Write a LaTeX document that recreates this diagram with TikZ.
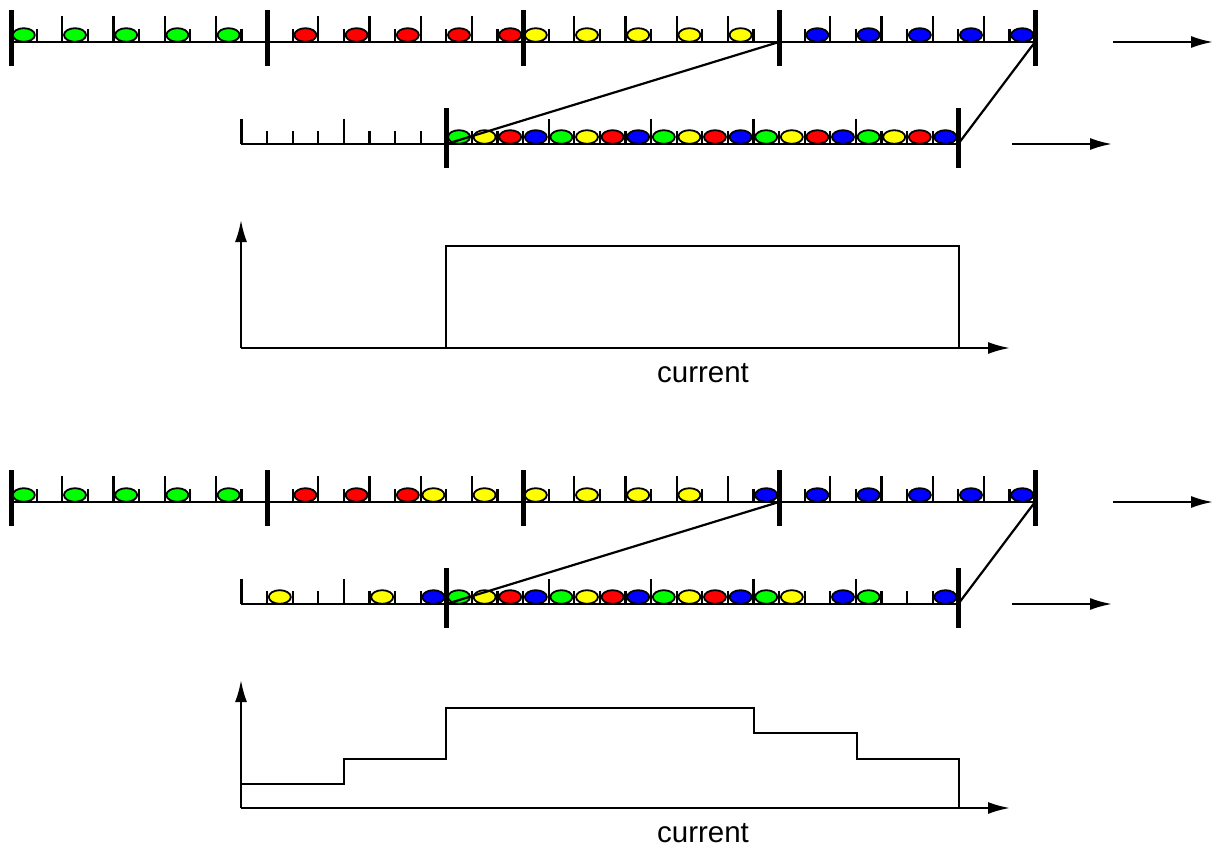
\documentclass[tikz,border=0pt]{standalone}
\usepackage{fontspec}
\newfontfamily\labfont{Liberation Sans}
\usetikzlibrary{arrows.meta}
\definecolor{cg}{RGB}{0,255,0}
\definecolor{cr}{RGB}{255,0,0}
\definecolor{cy}{RGB}{255,255,0}
\definecolor{cb}{RGB}{0,0,255}
\tikzset{
  axisline/.style={line width=2.2pt,-{Latex[length=22pt,width=12pt]}},
  flowarrow/.style={line width=2.2pt,-{Latex[length=22pt,width=12pt]}},
  baseline/.style={line width=2.2pt},
  bigbar/.style={line width=5pt},
  tickline/.style={line width=2.2pt},
  ball/.style={draw=black,line width=1.8pt},
  curve/.style={line width=2.2pt,line join=miter},
  link/.style={line width=2.2pt},
  lab/.style={font=\labfont\fontsize{29.5}{34}\selectfont,inner sep=0pt}
}
% top row: #1 = baseline y
\newcommand\toprowdraw[1]{%
  \draw[baseline] (11,#1) -- (1035,#1);
  \foreach \s in {0,...,40}{%
    \pgfmathtruncatemacro{\mm}{mod(\s,10)}%
    \pgfmathtruncatemacro{\ee}{mod(\s,2)}%
    \ifnum\mm=0
      \draw[bigbar] ({11+25.6*\s},{#1-32}) -- ({11+25.6*\s},{#1+24});
    \else\ifnum\ee=0
      \draw[tickline] ({11+25.6*\s},{#1-26}) -- ({11+25.6*\s},{#1});
    \else
      \draw[tickline] ({11+25.6*\s},{#1-13}) -- ({11+25.6*\s},{#1});
    \fi\fi}}
% lower row
\newcommand\lowrowdraw[1]{%
  \draw[baseline] ({11+25.6*9},#1) -- ({11+25.6*37},#1);
  \foreach \s in {9,...,37}{%
    \pgfmathtruncatemacro{\mm}{mod(\s-9,4)}%
    \ifnum\s=17
      \draw[bigbar] ({11+25.6*\s},{#1-36}) -- ({11+25.6*\s},{#1+24});
    \else\ifnum\s=37
      \draw[bigbar] ({11+25.6*\s},{#1-36}) -- ({11+25.6*\s},{#1+24});
    \else\ifnum\mm=0
      \draw[tickline] ({11+25.6*\s},{#1-25}) -- ({11+25.6*\s},{#1});
    \else
      \draw[tickline] ({11+25.6*\s},{#1-13}) -- ({11+25.6*\s},{#1});
    \fi\fi\fi}}
\newcommand\ballrow[2]{%
  \foreach \s/\c in {#2}{%
    \draw[ball,fill=\c] ({11+25.6*\s+12.8},{#1-7}) ellipse [x radius=11pt,y radius=6.8pt];}}
\begin{document}
\begin{tikzpicture}[x=1pt,y=-1pt]
\useasboundingbox (0,0) rectangle (1222,850);

% ================= section 1 =================
\toprowdraw{42}
\lowrowdraw{144}
\ballrow{42}{0/cg,2/cg,4/cg,6/cg,8/cg,11/cr,13/cr,15/cr,17/cr,19/cr,20/cy,22/cy,24/cy,26/cy,28/cy,31/cb,33/cb,35/cb,37/cb,39/cb}
\ballrow{144}{17/cg,18/cy,19/cr,20/cb,21/cg,22/cy,23/cr,24/cb,25/cg,26/cy,27/cr,28/cb,29/cg,30/cy,31/cr,32/cb,33/cg,34/cy,35/cr,36/cb}
\coordinate (a1) at (779,42);
\coordinate (a2) at (446.2,144);
\coordinate (b1) at (1035,42);
\coordinate (b2) at (958.2,144);
\draw[link] (a1) -- (a2);
\draw[link] (b1) -- (b2);
\coordinate (f1s) at (1113,42);
\coordinate (f1e) at (1213,42);
\coordinate (f2s) at (1012,144);
\coordinate (f2e) at (1112,144);
\draw[flowarrow] (f1s) -- (f1e);
\draw[flowarrow] (f2s) -- (f2e);
% graph 1
\coordinate (o1) at (241,348);
\coordinate (y1) at (241,220);
\coordinate (x1) at (1010,348);
\draw[axisline] (o1) -- (y1);
\draw[axisline] (o1) -- (x1);
\draw[curve] (446,348) -- (446,246) -- (959,246) -- (959,348);
\node[lab] (cur1) at (703,373) {current};

% ================= section 2 =================
\toprowdraw{502}
\lowrowdraw{604}
\ballrow{502}{0/cg,2/cg,4/cg,6/cg,8/cg,11/cr,13/cr,15/cr,16/cy,18/cy,20/cy,22/cy,24/cy,26/cy,29/cb,31/cb,33/cb,35/cb,37/cb,39/cb}
\ballrow{604}{10/cy,14/cy,16/cb,17/cg,18/cy,19/cr,20/cb,21/cg,22/cy,23/cr,24/cb,25/cg,26/cy,27/cr,28/cb,29/cg,30/cy,32/cb,33/cg,36/cb}
\coordinate (c1) at (779,502);
\coordinate (c2) at (446.2,604);
\coordinate (d1) at (1035,502);
\coordinate (d2) at (958.2,604);
\draw[link] (c1) -- (c2);
\draw[link] (d1) -- (d2);
\coordinate (g1s) at (1113,502);
\coordinate (g1e) at (1213,502);
\coordinate (g2s) at (1012,604);
\coordinate (g2e) at (1112,604);
\draw[flowarrow] (g1s) -- (g1e);
\draw[flowarrow] (g2s) -- (g2e);
% graph 2
\coordinate (o2) at (241,808);
\coordinate (y2) at (241,680);
\coordinate (x2) at (1010,808);
\draw[axisline] (o2) -- (y2);
\draw[axisline] (o2) -- (x2);
\draw[curve] (241,784) -- (344,784) -- (344,759) -- (446,759) -- (446,708) -- (754,708) -- (754,733) -- (857,733) -- (857,759) -- (959,759) -- (959,808);
\node[lab] (cur2) at (703,833) {current};
\end{tikzpicture}
\end{document}
